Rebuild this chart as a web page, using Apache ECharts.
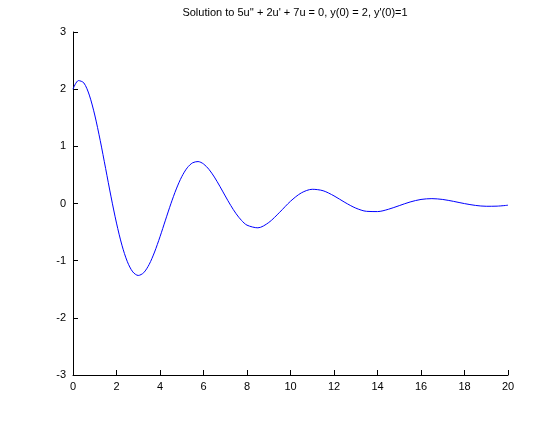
<!DOCTYPE html>
<html>
<head>
<meta charset="utf-8">
<script src="https://cdn.jsdelivr.net/npm/echarts@6/dist/echarts.min.js"></script>
<style>html,body{margin:0;padding:0;background:#fff}#c{width:560px;height:421px}</style>
</head>
<body>
<div id="c"></div>
<script>
const titleText = "Solution to 5u'' + 2u' + 7u = 0, y(0) = 2, y'(0)=1";
const tValues = [0,0.25,0.5,0.75,1,1.25,1.5,1.75,2,2.25,2.5,2.75,3,3.25,3.5,3.75,4,4.25,4.5,4.75,5,5.25,5.5,5.75,6,6.25,6.5,6.75,7,7.25,7.5,7.75,8,8.5,9,9.5,10,10.5,11,11.5,12,12.5,13,13.5,14,14.5,15,15.5,16,16.5,17,17.5,18,18.5,19,19.5,20];
const uValues = [2,2.1504,2.1087,1.8964,1.5481,1.1047,0.6122,0.1159,-0.3427,-0.7294,-1.0189,-1.1967,-1.2587,-1.2107,-1.0672,-0.8491,-0.5816,-0.2915,-0.0049,0.2549,0.4688,0.6237,0.7122,0.7334,0.6921,0.5974,0.4623,0.3019,0.1318,-0.0330,-0.1794,-0.2970,-0.3789,-0.4255,-0.3326,-0.1541,0.0396,0.1859,0.2485,0.2231,0.1336,0.0192,-0.0804,-0.1372,-0.1414,-0.1013,-0.0372,0.0267,0.0708,0.0851,0.0706,0.0370,-0.0019,-0.0332,-0.0486,-0.0462,-0.0300];
const xTicks = {min:0, max:20, interval:2};
const yTicks = {min:-3, max:3, interval:1};

const chart = echarts.init(document.getElementById('c'), null, {renderer:'canvas'});
const font = 'Liberation Sans, Arial, Helvetica, sans-serif';
const axisCommon = {
  axisLine:{show:true, onZero:false, lineStyle:{color:'#000', width:1}},
  axisTick:{show:true, inside:true, length:5, lineStyle:{color:'#000'}},
  splitLine:{show:false},
  axisLabel:{color:'#000', fontSize:11, fontFamily:font}
};
chart.setOption({
  animation:false,
  backgroundColor:'#fff',
  title:{text:titleText, left:290, top:2, textAlign:'center',
    textStyle:{fontSize:11, fontWeight:'normal', color:'#000', fontFamily:font}},
  grid:{left:73, right:52, top:32, bottom:46, containLabel:false},
  xAxis:Object.assign({type:'value', min:xTicks.min, max:xTicks.max, interval:xTicks.interval}, axisCommon,
    {axisLabel:Object.assign({}, axisCommon.axisLabel, {margin:6})}),
  yAxis:Object.assign({type:'value', min:yTicks.min, max:yTicks.max, interval:yTicks.interval}, axisCommon,
    {axisLabel:Object.assign({}, axisCommon.axisLabel, {margin:7})}),
  series:[{
    type:'line',
    data:tValues.map((t,i)=>[t,uValues[i]]),
    smooth:0.3,
    showSymbol:false,
    lineStyle:{color:'#0000ff', width:1},
    itemStyle:{color:'#0000ff'}
  }]
});
</script>
</body>
</html>
